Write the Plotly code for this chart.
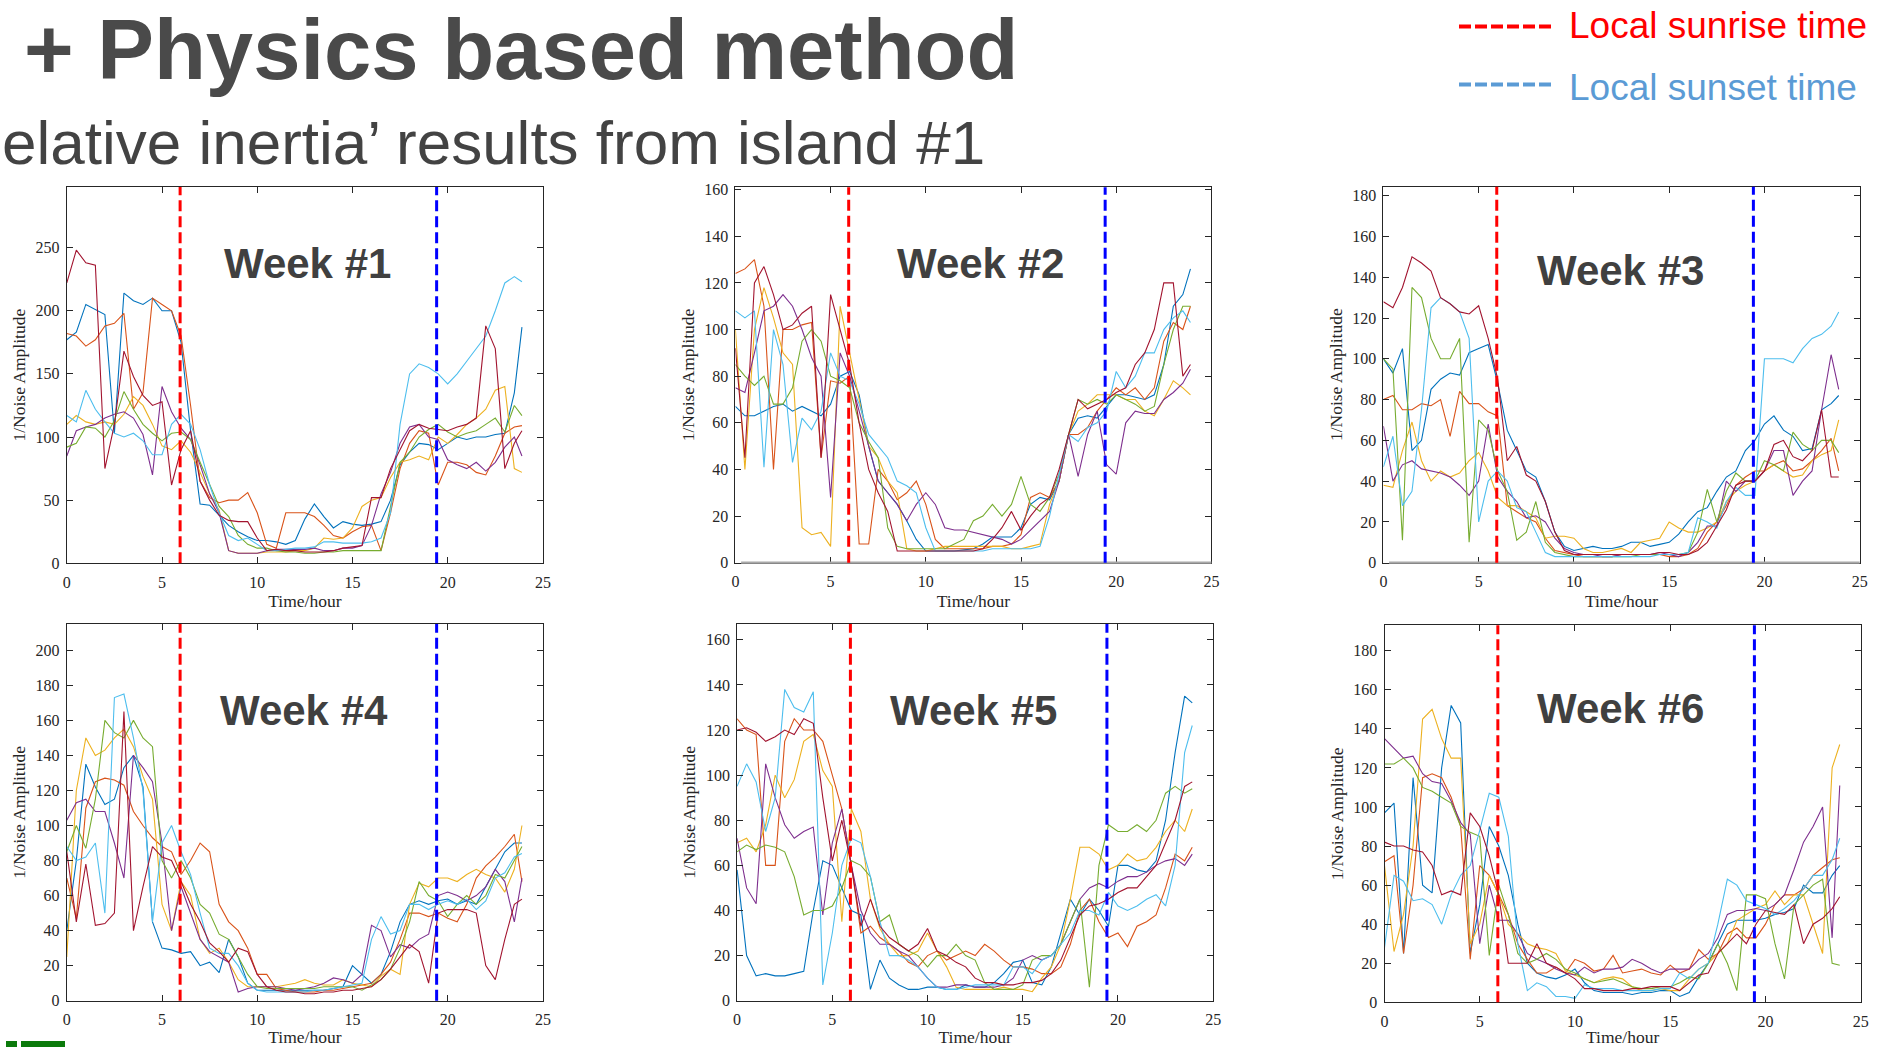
import plotly.graph_objects as go

W, H = 1888, 1047

# Half-hour sampling of each day (last sample at 23.9 h)
HOURS = [i * 0.5 for i in range(48)] + [23.9]

SUNRISE_HOUR = 5.95
SUNSET_HOUR = 19.42

SERIES_ORDER = ["blue", "orange", "yellow", "purple", "green", "lightblue", "darkred"]
SERIES_COLORS = {
    "blue": "#0072BD", "orange": "#D95319", "yellow": "#EDB120", "purple": "#7E2F8E",
    "green": "#77AC30", "lightblue": "#4DBEEE", "darkred": "#A2142F",
}

# ---------------- Week 1 ----------------
W1_BLUE = [177,183,205,201,197,103,214,208,205,210,200,200,175,105,47,46,38,30,25,21,18,18,17,15,18,35,47,37,28,33,31,30,31,33,50,78,88,95,94,90,95,100,98,100,100,102,103,135,187]
W1_ORANGE = [182,180,172,177,188,190,198,122,135,210,205,200,180,125,65,52,48,50,50,56,40,15,12,40,40,40,37,30,22,20,25,29,30,10,40,75,95,105,103,62,80,80,78,72,70,85,103,108,109]
W1_YELLOW = [110,117,112,110,112,110,118,132,125,110,93,90,97,88,72,55,42,10,8,8,8,9,9,9,10,10,12,20,19,20,28,45,50,52,68,80,82,85,82,100,95,102,110,115,122,137,140,75,72]
W1_PURPLE = [85,105,108,110,115,118,120,115,102,70,140,120,107,98,78,55,40,10,8,8,8,10,11,11,11,11,12,10,10,12,12,14,30,55,72,95,108,110,100,98,82,78,75,80,73,80,92,100,85]
W1_GREEN = [92,95,108,107,100,113,136,122,110,103,97,103,104,98,80,62,45,37,22,15,12,12,10,9,9,8,8,9,9,10,10,10,10,10,45,80,88,100,106,110,104,100,103,105,110,115,104,125,117]
W1_LIGHTBLUE = [117,112,137,122,112,103,100,103,97,86,86,110,118,110,90,62,40,22,18,20,15,10,10,11,12,12,13,17,17,16,16,16,17,20,40,110,150,158,155,150,142,150,160,170,180,200,222,227,223]
W1_DARKRED = [222,248,238,236,75,110,168,148,133,125,128,62,90,105,65,50,38,34,33,33,20,10,11,10,10,9,9,9,10,12,13,14,52,52,75,90,105,110,107,106,105,108,110,115,188,170,75,95,105]

# ---------------- Week 2 ----------------
W2_BLUE = [67,63,63,65,67,68,65,67,65,63,68,80,82,72,50,35,30,25,18,10,5,5,5,5,5.5,6,8,11,11,11,15,25,28,27,35,55,62,63,62,67,72,72,71,70,72,85,110,115,126]
W2_ORANGE = [124,126,130,110,40,100,100,102,103,45,78,77,80,8,8,40,35,27,30,35,25,10,6,6,6,6,6,7,7,8,12,28,30,28,35,55,55,58,65,70,75,72,75,70,75,95,103,100,110]
W2_YELLOW = [100,40,100,118,105,90,85,15,12,13,7,110,90,70,50,45,35,30,6,5,5,6,7,7,7,7,7,7,7,6,6,7,8,25,35,55,65,68,72,72,72,70,70,65,63,70,78,75,72]
W2_PURPLE = [75,73,90,108,110,115,110,100,88,80,28,90,80,65,50,35,30,25,18,25,30,25,15,14,14,13,12,11,10,8,10,14,18,22,35,55,37,55,65,42,38,60,65,64,64,70,73,77,83]
W2_GREEN = [85,80,76,80,68,68,75,95,100,95,80,78,75,60,52,45,15,7,6,6,6,6,6,8,10,18,20,25,20,25,37,25,22,28,38,55,70,68,70,68,72,70,68,65,67,85,100,110,110]
W2_LIGHTBLUE = [108,105,108,41,100,85,43,62,57,65,90,80,78,68,55,50,45,35,33,30,15,5,5,5,5,5,5,6,6,6,6,6,7,20,38,55,52,58,60,65,82,75,80,90,90,100,105,108,103]
W2_DARKRED = [92,45,120,127,115,100,102,107,110,45,115,100,85,60,40,30,22,5,5,5,5,5,5,5,5,5,6,10,15,22,14,20,25,28,40,55,70,66,68,70,73,75,85,90,100,120,120,80,85]

# ---------------- Week 3 ----------------
W3_BLUE = [100,93,105,55,60,85,90,93,92,103,105,107,88,65,55,45,42,30,15,8,6,7,8,7,7,8,10,10,8,9,10,14,20,25,27,35,42,45,55,60,68,72,65,62,55,56,75,78,82]
W3_ORANGE = [80,82,75,75,78,77,80,62,84,78,78,74,72,28,25,22,20,12,6,5,4,3,3,3,3,4,4,4,4,4,3,3,4,7,15,20,28,38,42,45,45,48,50,45,46,50,55,61,45]
W3_YELLOW = [38,37,55,69,50,40,45,42,44,50,54,45,32,28,28,25,22,12,13,13,12,7,5,5,6,7,5,10,11,12,20,17,15,15,17,20,30,35,38,40,45,48,45,42,43,50,53,55,70]
W3_PURPLE = [67,40,48,50,46,45,44,42,38,33,40,68,42,35,30,22,23,20,12,7,5,4,4,3,3,4,4,4,4,5,4,3,5,10,18,18,40,35,40,40,45,55,55,33,40,45,75,102,85]
W3_GREEN = [100,95,11,135,130,110,100,100,110,10,70,65,45,35,11,15,30,10,5,4,3,3,3,3,3,3,3,4,4,4,4,4,5,15,36,20,35,44,40,40,50,48,45,64,58,55,60,60,54]
W3_LIGHTBLUE = [47,62,28,35,75,125,130,127,123,110,20,40,45,40,27,25,15,5,3,3,3,3,3,3,3,3,3,3,3,4,4,4,5,22,20,17,30,37,33,33,100,100,100,98,105,110,112,116,123]
W3_DARKRED = [128,125,135,150,147,143,130,127,123,122,126,110,90,50,57,43,40,30,15,6,4,4,4,4,4,4,4,4,4,5,5,4,4,6,10,18,26,38,40,40,45,58,60,52,50,55,75,42,42]

# ---------------- Week 4 ----------------
W4_BLUE = [40,80,135,122,112,115,133,140,122,45,30,29,27,28,20,22,16,35,25,10,6,6,6,6,6,6,6,6,7,8,20,15,10,15,28,45,55,57,55,57,58,55,57,55,65,75,85,90,90]
W4_ORANGE = [70,47,110,125,127,126,123,108,100,93,88,85,72,80,90,85,55,45,40,30,15,15,7,6,5,5,5,6,6,7,8,9,10,15,22,35,50,50,48,50,47,45,55,70,77,82,88,95,68]
W4_YELLOW = [25,120,150,140,143,150,155,145,128,115,55,40,68,60,35,27,30,22,12,8,8,8,8,9,10,12,10,9,9,12,10,9,8,14,18,15,55,67,65,70,70,68,72,75,72,70,62,75,100]
W4_PURPLE = [103,113,115,108,108,90,70,140,133,125,90,40,65,50,35,28,25,22,5,7,8,8,8,7,6,7,8,10,13,12,10,15,43,40,25,32,30,35,38,60,62,60,57,60,65,75,68,45,70]
W4_GREEN = [85,100,87,115,160,153,150,160,150,145,80,70,80,70,55,50,38,35,25,15,8,7,7,7,7,7,7,8,8,8,8,6,9,12,18,30,45,68,60,57,48,55,60,55,60,72,70,80,88]
W4_LIGHTBLUE = [88,80,82,90,50,173,175,150,120,45,90,100,85,72,50,30,27,27,20,10,6,5,5,5,5,5,6,6,7,8,9,10,35,48,38,40,55,55,52,55,57,55,58,52,57,70,73,82,84]
W4_DARKRED = [85,45,78,43,44,50,165,40,65,88,82,80,68,55,45,33,28,22,30,28,15,8,6,5,5,4,4,5,5,6,6,7,8,12,18,25,32,28,10,50,52,52,52,50,20,12,35,55,58]

# ---------------- Week 5 ----------------
W5_BLUE = [58,20,11,12,11,11,12,13,40,62,60,50,40,38,5,18,10,7,5,5,6,6,5,5,7,6,6,8,12,17,18,8,7,15,30,45,38,45,40,33,60,60,58,57,62,80,110,135,132]
W5_ORANGE = [125,120,118,60,60,115,125,120,120,115,100,85,60,30,33,28,25,22,17,15,20,22,18,20,22,20,25,22,18,15,15,14,12,12,15,25,40,45,35,28,30,24,33,35,38,50,65,62,68]
W5_YELLOW = [70,72,66,78,100,90,98,115,118,102,95,35,85,75,45,32,25,20,20,22,30,22,15,6,5,5,5,5,6,5,5,4,10,15,25,45,68,68,65,58,60,65,62,63,68,75,80,75,85]
W5_PURPLE = [72,50,43,105,90,78,72,75,77,38,70,85,60,40,30,25,25,22,20,15,10,6,6,7,7,6,6,6,7,10,18,20,18,20,25,35,45,50,52,50,53,55,55,57,60,62,63,60,65]
W5_GREEN = [66,69,67,69,68,66,55,38,40,40,42,50,62,60,55,35,38,25,22,20,15,20,20,25,20,18,8,5,5,5,7,18,20,20,25,35,45,6,60,78,75,75,78,75,80,92,95,92,94]
W5_LIGHTBLUE = [95,105,97,75,90,138,130,128,137,7,30,60,72,70,55,35,20,20,18,15,10,6,5,5,6,7,7,7,7,15,15,12,18,20,25,30,40,40,38,48,42,40,42,45,47,42,60,110,122]
W5_DARKRED = [120,121,119,115,117,120,118,125,123,90,62,80,60,33,45,33,28,25,22,25,32,22,20,17,15,10,8,8,7,7,8,8,9,12,18,28,38,42,43,45,48,50,50,55,60,70,80,95,97]

# ---------------- Week 6 ----------------
W6_BLUE = [97,102,25,115,60,56,120,152,143,25,50,90,80,65,40,20,15,13,12,14,17,10,6,5,5,5,4,5,5,6,6,3,5,13,20,30,40,42,42,42,43,45,46,48,60,56,56,65,70]
W6_ORANGE = [72,75,25,60,115,117,115,105,90,22,70,65,55,45,30,22,15,15,18,15,22,20,16,17,24,15,16,17,15,14,19,15,17,27,22,25,35,38,33,33,40,50,55,55,58,65,69,73,74]
W6_YELLOW = [70,26,45,80,145,150,135,125,125,30,40,65,55,40,35,30,28,27,25,16,14,12,10,12,13,12,8,6,6,7,6,6,12,17,20,25,30,42,45,48,50,57,50,55,55,40,25,120,132]
W6_PURPLE = [135,130,125,126,117,113,112,103,92,86,30,60,42,42,35,25,22,20,17,15,14,18,15,17,17,18,22,20,17,15,17,17,17,22,25,33,45,47,47,48,47,50,55,68,82,90,100,33,111]
W6_GREEN = [122,122,125,120,110,108,105,102,90,87,85,24,60,45,25,20,22,25,22,17,15,12,10,11,12,10,8,7,7,8,8,10,13,12,20,30,20,6,55,55,53,30,12,50,55,60,63,20,19]
W6_LIGHTBLUE = [28,65,62,52,53,50,40,55,65,70,88,107,105,85,30,6,10,8,3,3,2,9,7,7,7,6,6,6,6,7,7,15,12,17,20,40,63,60,52,50,48,45,48,52,58,65,65,73,84]
W6_DARKRED = [82,80,80,78,77,70,55,57,55,97,90,75,55,20,20,20,30,20,18,15,12,7,7,6,6,6,7,7,8,8,8,6,10,14,15,25,30,35,30,40,47,46,45,50,30,40,43,48,54]

WEEK_LABELS = ["Week #1", "Week #2", "Week #3", "Week #4", "Week #5", "Week #6"]
WEEK_SERIES = [
    [W1_BLUE, W1_ORANGE, W1_YELLOW, W1_PURPLE, W1_GREEN, W1_LIGHTBLUE, W1_DARKRED],
    [W2_BLUE, W2_ORANGE, W2_YELLOW, W2_PURPLE, W2_GREEN, W2_LIGHTBLUE, W2_DARKRED],
    [W3_BLUE, W3_ORANGE, W3_YELLOW, W3_PURPLE, W3_GREEN, W3_LIGHTBLUE, W3_DARKRED],
    [W4_BLUE, W4_ORANGE, W4_YELLOW, W4_PURPLE, W4_GREEN, W4_LIGHTBLUE, W4_DARKRED],
    [W5_BLUE, W5_ORANGE, W5_YELLOW, W5_PURPLE, W5_GREEN, W5_LIGHTBLUE, W5_DARKRED],
    [W6_BLUE, W6_ORANGE, W6_YELLOW, W6_PURPLE, W6_GREEN, W6_LIGHTBLUE, W6_DARKRED],
]
Y_TOPS = [298, 161, 184.4, 215, 167, 193]
Y_TICKS = [
    [0, 50, 100, 150, 200, 250],
    [0, 20, 40, 60, 80, 100, 120, 140, 160],
    [0, 20, 40, 60, 80, 100, 120, 140, 160, 180],
    [0, 20, 40, 60, 80, 100, 120, 140, 160, 180, 200],
    [0, 20, 40, 60, 80, 100, 120, 140, 160],
    [0, 20, 40, 60, 80, 100, 120, 140, 160, 180],
]
X_TICKS = [0, 5, 10, 15, 20, 25]

# Panel boxes in pixels: left, right, top, bottom
PANEL_BOXES = [
    (66.8, 542.9, 187.0, 563.3),
    (735.4, 1211.4, 187.3, 562.7),
    (1383.4, 1859.7, 186.7, 562.7),
    (66.8, 542.9, 624.0, 1000.7),
    (737.1, 1213.2, 624.0, 1000.7),
    (1384.5, 1860.7, 625.3, 1002.3),
]
# Panels whose bottom axis is drawn as a light grey rule
GREY_BASELINE = [False, True, True, False, False, False]
# Week label centres inside each panel (axis-domain fractions)
LABEL_POS = [(0.506, 0.798), (0.514, 0.798), (0.498, 0.778),
             (0.499, 0.770), (0.496, 0.770), (0.496, 0.778)]

AXIS_COLOR = "#262626"
SERIF = "Liberation Serif"
SANS = "Liberation Sans"

fig = go.Figure()
layout = dict(
    width=W, height=H, autosize=False,
    margin=dict(l=0, r=0, t=0, b=0),
    paper_bgcolor="white", plot_bgcolor="white",
    showlegend=False,
)
shapes, annotations = [], []

for k in range(6):
    n = k + 1
    xa = "xaxis" if n == 1 else f"xaxis{n}"
    ya = "yaxis" if n == 1 else f"yaxis{n}"
    xr = "x" if n == 1 else f"x{n}"
    yr = "y" if n == 1 else f"y{n}"
    left, right, top, bottom = PANEL_BOXES[k]

    for name, values in zip(SERIES_ORDER, WEEK_SERIES[k]):
        fig.add_trace(go.Scatter(
            x=HOURS, y=values, mode="lines", xaxis=xr, yaxis=yr,
            line=dict(color=SERIES_COLORS[name], width=1.1),
            hoverinfo="skip",
        ))

    common = dict(
        showline=True, linecolor=AXIS_COLOR, linewidth=1, mirror="ticks",
        ticks="inside", ticklen=6, tickcolor=AXIS_COLOR, tickwidth=1,
        showgrid=False, zeroline=False, automargin=False,
        tickfont=dict(family=SERIF, size=16, color=AXIS_COLOR),
    )
    layout[xa] = dict(
        common, domain=[left / W, right / W], anchor=yr, range=[0, 25],
        tickvals=X_TICKS, ticklabelstandoff=4,
        title=dict(text="Time/hour", standoff=5,
                   font=dict(family=SERIF, size=17.5, color=AXIS_COLOR)),
    )
    layout[ya] = dict(
        common, domain=[1 - bottom / H, 1 - top / H], anchor=xr,
        range=[0, Y_TOPS[k]], tickvals=Y_TICKS[k], ticklabelstandoff=3,
        title=dict(text="1/Noise Amplitude", standoff=5,
                   font=dict(family=SERIF, size=17.5, color=AXIS_COLOR)),
    )

    if GREY_BASELINE[k]:
        shapes.append(dict(
            type="line", xref=f"{xr} domain", yref=f"{yr} domain",
            x0=0.012, x1=1, y0=0, y1=0,
            line=dict(color="#A8A8A8", width=2.2),
        ))

    for hour, color in ((SUNRISE_HOUR, "#FF0000"), (SUNSET_HOUR, "#0000FF")):
        shapes.append(dict(
            type="line", xref=xr, yref=f"{yr} domain",
            x0=hour, x1=hour, y0=0, y1=1,
            line=dict(color=color, width=3, dash="11px,5px"),
        ))

    lx, ly = LABEL_POS[k]
    annotations.append(dict(
        text=f"<b>{WEEK_LABELS[k]}</b>", xref=f"{xr} domain", yref=f"{yr} domain",
        x=lx, y=ly, xanchor="center", yanchor="middle", showarrow=False,
        font=dict(family=SANS, size=42, color="#404040"),
    ))

# Heading and subheading
annotations.append(dict(
    text="<b>+ Physics based method</b>", xref="paper", yref="paper",
    x=21.5 / W, y=1.0, xanchor="left", yanchor="top", showarrow=False,
    font=dict(family=SANS, size=85, color="#4A4A4A"),
))
annotations.append(dict(
    text="elative inertia\u2019 results from island #1", xref="paper", yref="paper",
    x=0, y=1 - 107 / H, xanchor="left", yanchor="top", yshift=1, showarrow=False,
    font=dict(family=SANS, size=62, color="#434343"),
))

# Key for the sunrise / sunset markers
for line_y, text_y, color, label in ((26.5, 25.5, "#FF0000", "Local sunrise time"),
                                     (84.5, 88.0, "#5B9BD5", "Local sunset time")):
    shapes.append(dict(
        type="line", xref="paper", yref="paper",
        x0=1459 / W, x1=1552 / W, y0=1 - line_y / H, y1=1 - line_y / H,
        line=dict(color=color, width=4, dash="12px,4px"),
    ))
    annotations.append(dict(
        text=label, xref="paper", yref="paper",
        x=1566.5 / W, y=1 - text_y / H, xanchor="left", yanchor="middle", showarrow=False,
        font=dict(family=SANS, size=37, color=color),
    ))

# Logo fragment at the bottom-left edge
for x0, x1 in ((6, 17), (21, 65)):
    shapes.append(dict(
        type="rect", xref="paper", yref="paper",
        x0=x0 / W, x1=x1 / W, y0=0, y1=6 / H,
        line=dict(width=0), fillcolor="#0B7A0B",
    ))

layout["shapes"] = shapes
layout["annotations"] = annotations
fig.update_layout(**layout)

fig.write_html("out.html")
